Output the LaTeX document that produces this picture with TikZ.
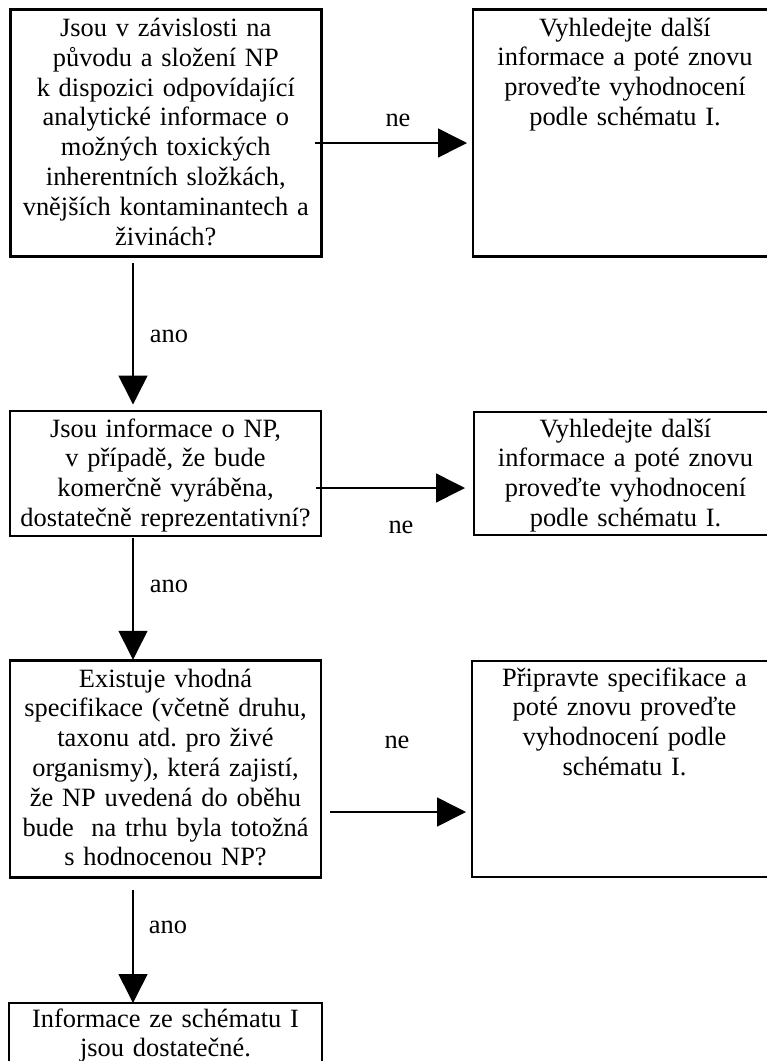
\documentclass[tikz,border=0pt]{standalone}
\usepackage{fontspec}
\setmainfont{Liberation Serif}
\usetikzlibrary{arrows.meta}
\frenchspacing
\begin{document}
\begin{tikzpicture}[x=1pt,y=-1pt,
  box/.style={draw, line width=2.6pt, rectangle, inner sep=0pt, outer sep=0pt},
  txt/.style={anchor=base, align=center, text width=306pt, inner sep=0pt,
              font=\frenchspacing\fontsize{26.4}{29.8}\selectfont},
  lbl/.style={anchor=base, inner sep=0pt, font=\fontsize{26.4}{29.8}\selectfont},
  flow/.style={line width=1.6pt, -{Triangle[length=29pt,width=29pt]}}]
\useasboundingbox (0,0) rectangle (767,1061);
\begin{scope}
\clip (0,0) rectangle (767,1061);

% decision boxes (left column)
\node[box, minimum width=311pt, minimum height=247pt] (b1) at (165.8,132.8) {};
\node[box, minimum width=311pt, minimum height=125pt] (b2) at (165.5,473.5) {};
\node[box, minimum width=311pt, minimum height=216.5pt] (b3) at (165.5,769) {};
\node[box, minimum width=313pt, minimum height=97pt] (b4) at (165.5,1051.5) {};

% action boxes (right column)
\node[box, minimum width=304pt, minimum height=247pt] (b1r) at (625,132.8) {};
\node[box, minimum width=303pt, minimum height=123pt] (b2r) at (625.5,473.5) {};
\node[box, minimum width=305pt, minimum height=216pt] (b3r) at (624.5,769) {};

% box texts
\node[txt] (t1) at (165.8,36.5) {Jsou v závislosti na\\ původu a složení NP\\ k dispozici odpovídající\\ analytické informace o\\ možných toxických\\ inherentních složkách,\\ vnějších kontaminantech a\\ živinách?};
\node[txt] (t1r) at (625,36) {Vyhledejte další\\ informace a poté znovu\\ proveďte vyhodnocení\\ podle schématu I.};
\node[txt] (t2) at (165.5,437) {Jsou informace o NP,\\ v případě, že bude\\ komerčně vyráběna,\\ dostatečně reprezentativní?};
\node[txt] (t2r) at (625.5,437) {Vyhledejte další\\ informace a poté znovu\\ proveďte vyhodnocení\\ podle schématu I.};
\node[txt] (t3) at (165.5,687) {Existuje vhodná\\ specifikace (včetně druhu,\\ taxonu atd. pro živé\\ organismy), která zajistí,\\ že NP uvedená do oběhu\\ bude\ \ na trhu byla totožná\\ s hodnocenou NP?};
\node[txt] (t3r) at (624.5,686) {Připravte specifikace a\\ poté znovu proveďte\\ vyhodnocení podle\\ schématu I.};
\node[txt] (t4) at (165.5,1027) {Informace ze schématu I\\ jsou dostatečné.};

% connectors
\draw[flow] ([shift={(-6.3pt,-10.2pt)}]b1.east) -- ([shift={(-6pt,-10.2pt)}]b1r.west);
\draw[flow] ([shift={(-32.8pt,-6.7pt)}]b1.south) -- ([shift={(-32.5pt,6.5pt)}]b2.north);
\draw[flow] ([shift={(-5pt,-14.5pt)}]b2.east) -- ([shift={(-9pt,-14.5pt)}]b2r.west);
\draw[flow] ([shift={(-32.5pt,-2pt)}]b2.south) -- ([shift={(-32.5pt,1pt)}]b3.north);
\draw[flow] ([shift={(9pt,-43pt)}]b3.east) -- ([shift={(-6pt,-43pt)}]b3r.west);
\draw[flow] ([shift={(-32.5pt,-12.5pt)}]b3.south) -- ([shift={(-32.5pt,0pt)}]b4.north);

% branch labels
\node[lbl] (n1) at (398,126.7) {ne};
\node[lbl] (n2) at (401,533) {ne};
\node[lbl] (n3) at (397,748) {ne};
\node[lbl] (a1) at (169,342) {ano};
\node[lbl] (a2) at (169,592) {ano};
\node[lbl] (a3) at (168,933) {ano};
\end{scope}
\end{tikzpicture}
\end{document}
